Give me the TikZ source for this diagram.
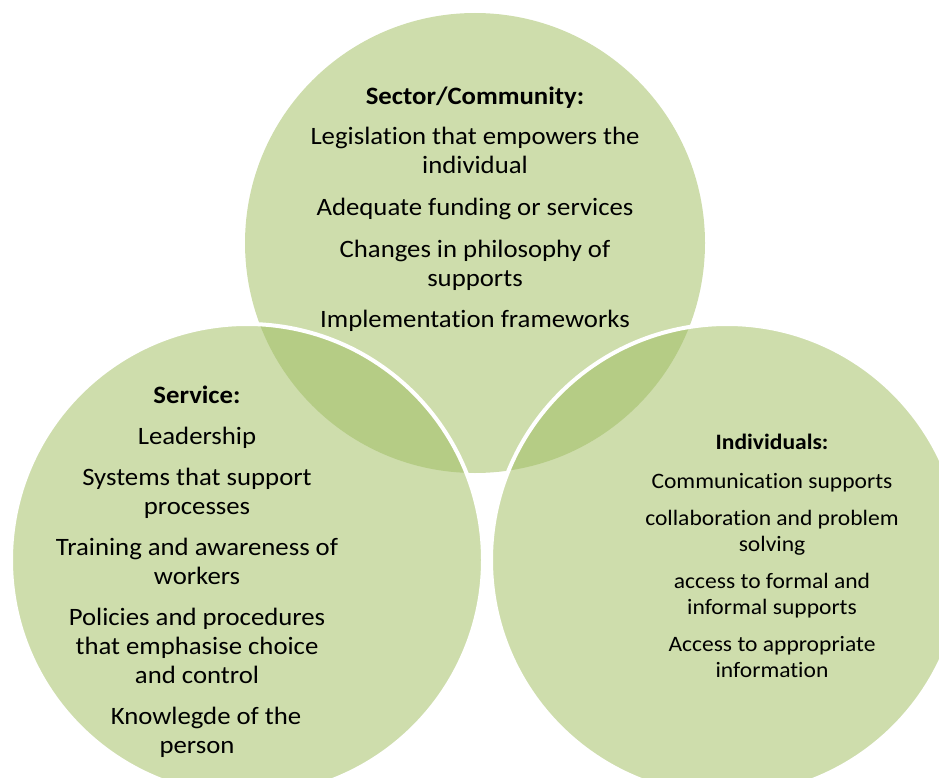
\documentclass[tikz,border=0pt]{standalone}
\usepackage{fontspec}
\setmainfont{Carlito}[FakeStretch=1.07, Ligatures=NoCommon]
\definecolor{vennfill}{RGB}{206,221,172}
\definecolor{lensfill}{RGB}{181,204,133}
\tikzset{
  blocktext/.style={align=center, text=black, inner sep=0pt},
  bigtext/.style={blocktext, font=\fontsize{25}{29}\selectfont},
  smalltext/.style={blocktext, font=\fontsize{22}{26}\selectfont},
  rim/.style={draw=white, line width=4pt}
}
\begin{document}
\begin{tikzpicture}[x=1pt,y=-1pt]
\useasboundingbox (0,0) rectangle (939,778);
\clip (0,0) rectangle (939,778);

% circle centres
\coordinate (sector) at (475,243);
\coordinate (service) at (247,560);
\coordinate (indiv) at (727,560);

% the three sets
\fill[vennfill] (sector) circle[radius=230pt];
\fill[vennfill] (service) circle[radius=236pt];
\fill[vennfill] (indiv) circle[radius=236pt];

% overlaps with the upper set
\begin{scope}
  \clip (sector) circle[radius=230pt];
  \fill[lensfill] (service) circle[radius=236pt];
  \fill[lensfill] (indiv) circle[radius=236pt];
\end{scope}

% white rims of the lower sets
\path[rim] (service) circle[radius=236pt];
\path[rim] (indiv) circle[radius=236pt];

% texts
\node[bigtext] (sectortext) at (475,209) {%
  \textbf{Sector/Community:}\\[11pt]
  Legislation that empowers the\\individual\\[13pt]
  Adequate funding or services\\[13pt]
  Changes in philosophy of\\supports\\[12pt]
  Implementation frameworks};

\node[bigtext] (servicetext) at (197,572) {%
  \textbf{Service:}\\[12pt]
  Leadership\\[12pt]
  Systems that support\\processes\\[12pt]
  Training and awareness of\\workers\\[12pt]
  Policies and procedures\\that emphasise choice\\and control\\[12pt]
  \hspace*{18pt}Knowlegde of the\\person};

\node[smalltext] (indivtext) at (772,556) {%
  \textbf{Individuals:}\\[13pt]
  Communication supports\\[11pt]
  collaboration and problem\\solving\\[11pt]
  access to formal and\\informal supports\\[11pt]
  Access to appropriate\\information};
\end{tikzpicture}
\end{document}
